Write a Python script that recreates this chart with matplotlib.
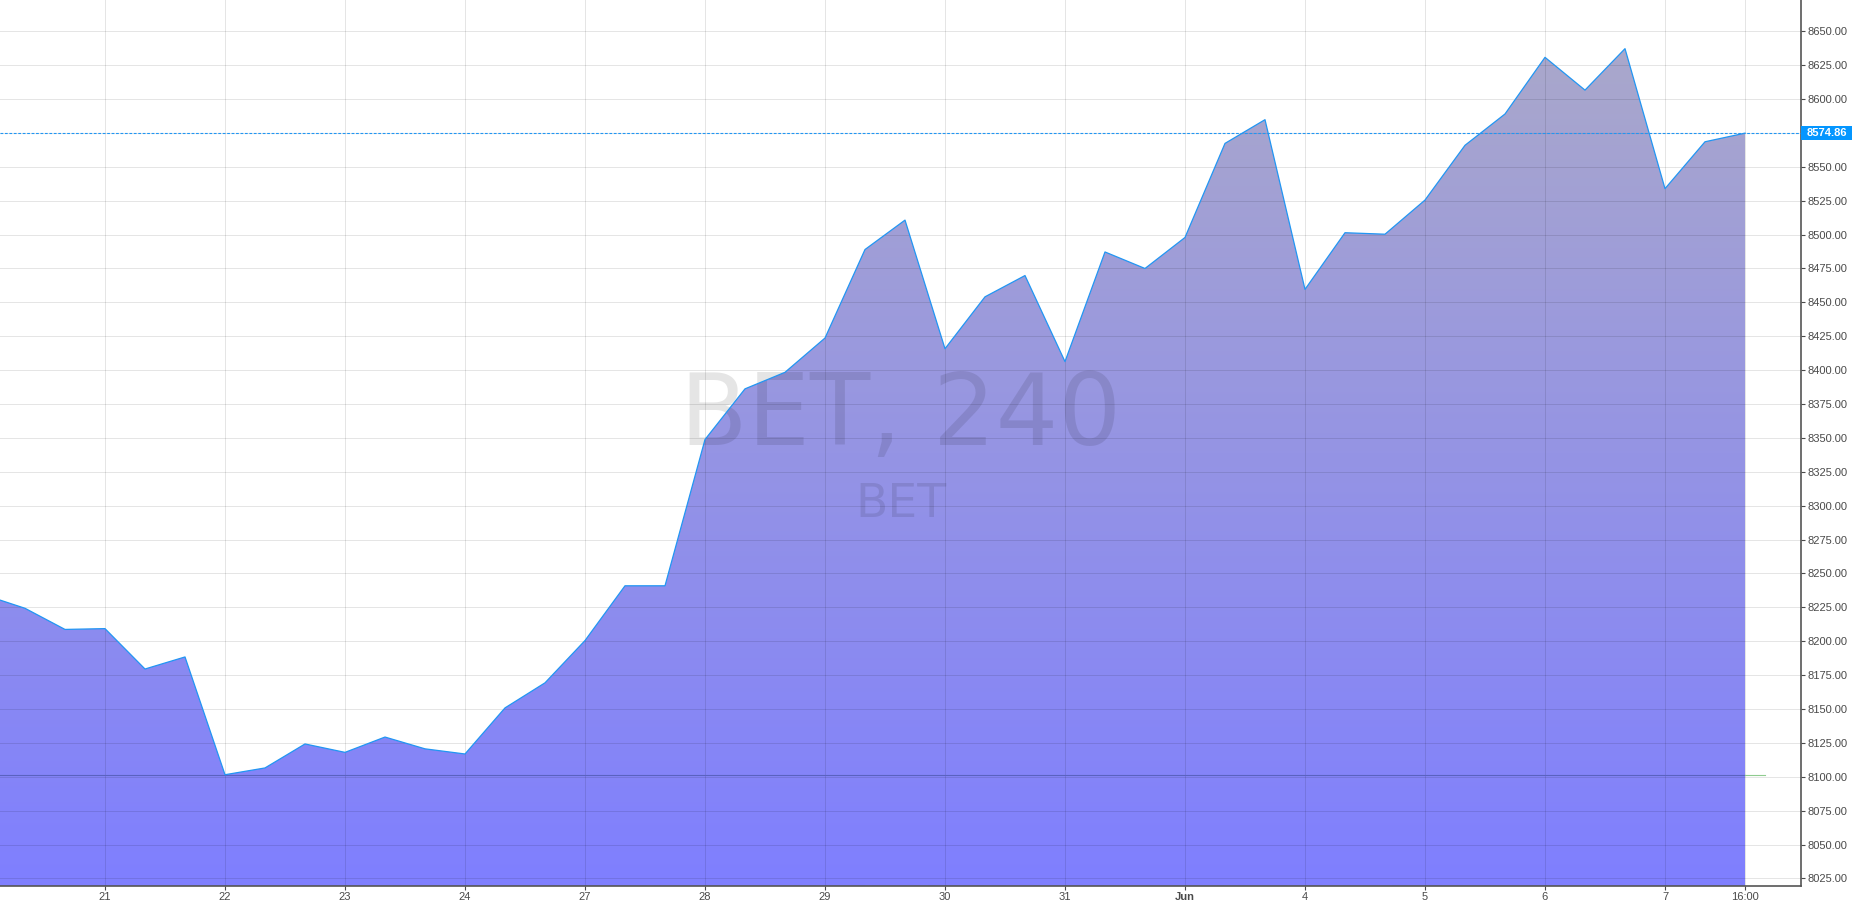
import numpy as np
import matplotlib
matplotlib.use("Agg")
import matplotlib.pyplot as plt
from matplotlib.patches import Rectangle

# BET index, 240 min bars, 3 bars per session
closes = [8234.0, 8224.3, 8208.7, 8209.3, 8179.5, 8188.4, 8101.5, 8106.5,
          8124.2, 8118.0, 8129.3, 8120.6, 8116.8, 8150.8, 8169.3, 8200.5,
          8240.9, 8240.9, 8348.8, 8386.2, 8398.4, 8423.7, 8489.0, 8510.7,
          8415.8, 8454.1, 8469.8, 8406.3, 8487.2, 8475.0, 8497.9, 8567.3,
          8584.8, 8459.6, 8501.4, 8500.3, 8525.5, 8565.9, 8589.0, 8630.8,
          8606.6, 8637.2, 8533.9, 8568.5, 8574.86]
day_labels = ['21', '22', '23', '24', '27', '28', '29', '30', '31', 'Jun',
              '4', '5', '6', '7', '16:00']
day_idx = [3, 6, 9, 12, 15, 18, 21, 24, 27, 30, 33, 36, 39, 42, 44]
price_ticks = list(range(8025, 8651, 25))
last_price = 8574.86
ref_level = 8101.3

W, H = 1854, 907
plt.rcParams['font.family'] = ['Liberation Sans', 'DejaVu Sans']
fig = plt.figure(figsize=(W / 100, H / 100), dpi=100)
ax = fig.add_axes([0, 21 / H, 1801 / W, 886 / H])

x = np.arange(len(closes))
ymin, ymax = 8019.4, 8673.1
ax.set_xlim(0.375, 45.4)
ax.set_ylim(ymin, ymax)

# gradient area under the line
poly = ax.fill_between(x, closes, ymin, facecolor='none', edgecolor='none')
top = np.array([172, 170, 200]) / 255
bot = np.array([127, 127, 255]) / 255
t = np.linspace(0, 1, 256)[:, None]
grad = (top * (1 - t) + bot * t)[:, None, :]
im = ax.imshow(grad, extent=[0.375, 45.4, ymin, ymax], aspect='auto',
               origin='upper', zorder=1, interpolation='bilinear')
im.set_clip_path(poly.get_paths()[0], transform=ax.transData)

ax.plot(x, closes, color='#2196f3', lw=0.9, zorder=4)

# grid drawn over the fill
for v in price_ticks:
    ax.axhline(v, color='black', alpha=0.1, lw=0.72, zorder=2)
for i in day_idx:
    ax.axvline(i, color='black', alpha=0.1, lw=0.72, zorder=2)

# reference level line
ax.plot([0, 44], [ref_level, ref_level], color='#5a62c0', lw=0.8, zorder=3)
ax.plot([44, 44.5], [ref_level, ref_level], color='#8fcb8f', lw=0.8, zorder=3)

# last price line and label
ax.axhline(last_price, color='#2196f3', lw=0.8, ls=(0, (2.5, 1.5)), zorder=5)
trans = ax.get_yaxis_transform()
ax.add_patch(Rectangle((1.0, last_price - 5.0), 51 / 1801, 10.0,
                       transform=trans, facecolor='#0496ff', edgecolor='none',
                       clip_on=False, zorder=6))
ax.text(1.0 + 25.5 / 1801, last_price, f'{last_price:.2f}', transform=trans,
        ha='center', va='center', color='white', fontsize=8,
        fontweight='bold', zorder=7, clip_on=False)

# watermark
ax.text(0.5003, 0.529, 'BET, 240', transform=ax.transAxes, ha='center',
        va='center', fontsize=71, family='DejaVu Sans',
        color=(0, 0, 0, 0.1), zorder=3)
ax.text(0.5003, 0.431, 'BET', transform=ax.transAxes, ha='center',
        va='center', fontsize=34, family='DejaVu Sans',
        color=(0, 0, 0, 0.1), zorder=3)

# axes styling
for s in ['top', 'left']:
    ax.spines[s].set_visible(False)
for s in ['right', 'bottom']:
    ax.spines[s].set_color('#555555')
    ax.spines[s].set_linewidth(1.2)
ax.yaxis.tick_right()
ax.set_yticks(price_ticks)
ax.set_yticklabels([f'{v:.2f}' for v in price_ticks])
ax.set_xticks(day_idx)
ax.set_xticklabels(day_labels)
for lbl in ax.get_xticklabels():
    if lbl.get_text() == 'Jun':
        lbl.set_fontweight('bold')
ax.tick_params(axis='y', length=3, width=0.8, pad=1.5, labelsize=8,
               colors='#4a4a4a')
ax.tick_params(axis='x', length=3, width=0.8, pad=1.5, labelsize=8,
               colors='#4a4a4a')
ax.set_facecolor('white')

fig.savefig('out.png', dpi=100)
